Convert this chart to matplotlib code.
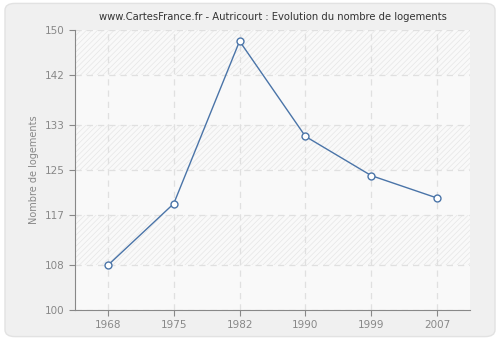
import matplotlib
matplotlib.use('Agg')
import matplotlib.pyplot as plt
from matplotlib.patches import FancyBboxPatch

years = ['1968', '1975', '1982', '1990', '1999', '2007']
logements = [108, 119, 148, 131, 124, 120]
yticks = [100, 108, 117, 125, 133, 142, 150]

plt.rcParams['hatch.linewidth'] = 0.5

fig = plt.figure(figsize=(5, 3.4), dpi=100)
fig.patch.set_facecolor('white')
# fond gris arrondi
fig.patches.append(FancyBboxPatch((0.01, 0.01), 0.98, 0.98, boxstyle='round,pad=0,rounding_size=0.02',
                                  transform=fig.transFigure, facecolor='#f0f0f0',
                                  edgecolor='#e2e2e2', linewidth=1, zorder=-10))

ax = fig.add_axes([0.15, 0.088, 0.79, 0.824])
ax.set_facecolor('#f9f9f9')

x = list(range(len(years)))

# bandes hachurées alternées
for i in range(len(yticks) - 1):
    if (len(yticks) - 2 - i) % 2 == 0:
        ax.axhspan(yticks[i], yticks[i + 1], facecolor='none', edgecolor='#e6e6e6',
                   hatch='//////', linewidth=0, zorder=0)

ax.plot(x, logements, color='#4a74a8', linewidth=1, marker='o', markersize=5,
        markerfacecolor='white', markeredgecolor='#4a74a8', markeredgewidth=1, zorder=3)

ax.set_xlim(-0.5, len(years) - 0.5)
ax.set_ylim(100, 150)
ax.set_xticks(x)
ax.set_xticklabels(years)
ax.set_yticks(yticks)

ax.grid(True, color='#e0e0e0', linestyle=(0, (5, 4)), linewidth=0.9)
ax.set_axisbelow(True)

for s in ['top', 'right']:
    ax.spines[s].set_visible(False)
for s in ['left', 'bottom']:
    ax.spines[s].set_color('#888888')
ax.tick_params(colors='#888888', labelsize=7.5, length=4, width=0.8)
for lab in ax.get_xticklabels() + ax.get_yticklabels():
    lab.set_color('#888888')

ax.set_ylabel('Nombre de logements', fontsize=7, color='#888888')
ax.set_title('www.CartesFrance.fr - Autricourt : Evolution du nombre de logements',
             fontsize=7.2, color='#333333', pad=7)

plt.savefig('out.png', dpi=100)
